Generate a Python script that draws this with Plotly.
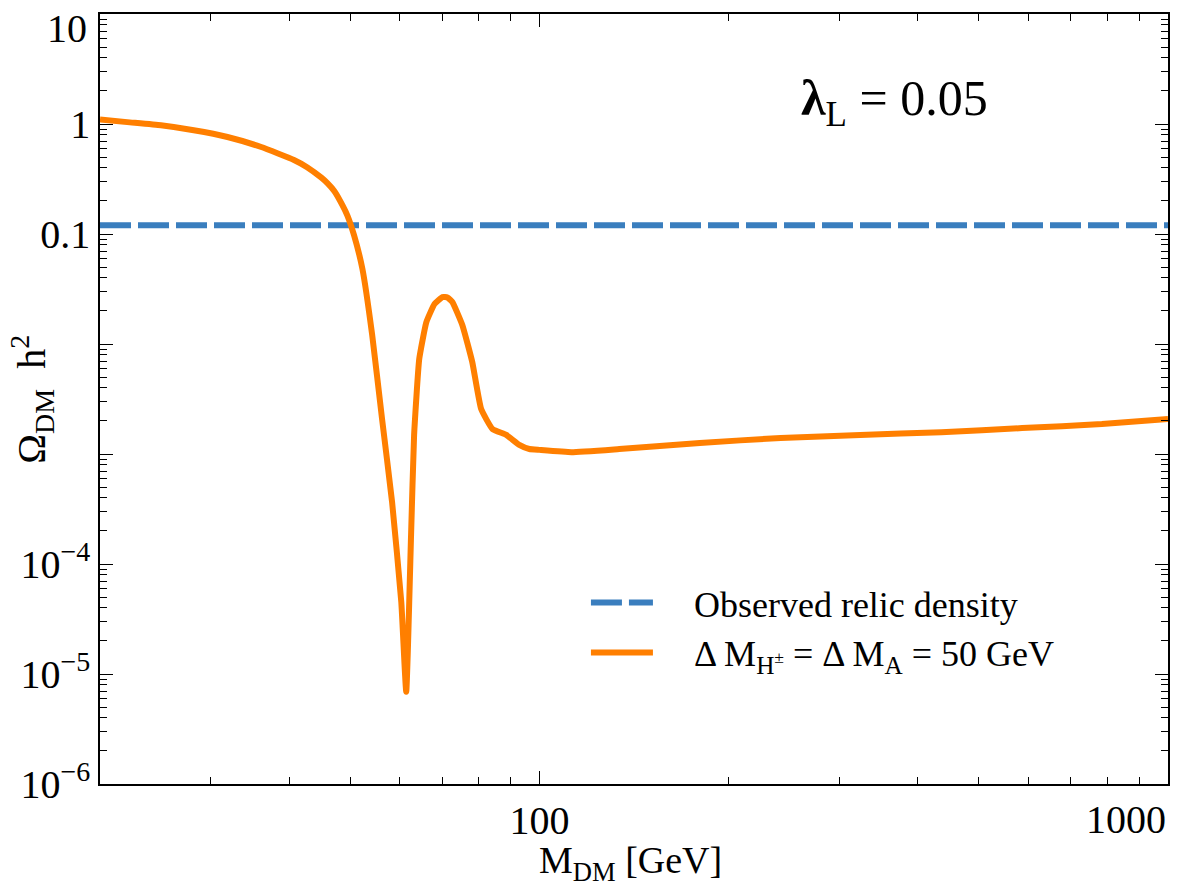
import plotly.graph_objects as go

# ---- data ----
m_dm = [20, 22.1, 25.0, 28.2, 31.9, 36.1, 40.7, 42.7, 45.0, 46.0, 47.2, 48.6,
        49.5, 50.7, 52.3, 54.2, 56.2, 58.3, 60.3, 61.4, 62.5, 63.2, 64.4, 66.1, 68.1,
        70.1, 71.4, 72.7, 75.4, 78.2, 80.8, 84.2, 88.6, 92.9, 96.4, 100, 112.5, 134,
        180, 242, 324, 436, 586, 785, 1000]
omega = [1.10, 1.04, 0.973, 0.877, 0.762, 0.618, 0.471, 0.405, 0.325, 0.290, 0.245,
         0.183, 0.147, 0.098, 0.0481, 0.0121, 0.00208, 3.66e-4, 4.52e-5, 6.9e-6,
         1.84e-4, 1.49e-3, 7.31e-3, 0.0158, 0.0231, 0.0267, 0.0265, 0.0241, 0.0149,
         6.86e-3, 2.56e-3, 1.69e-3, 1.49e-3, 1.21e-3, 1.11e-3, 1.09e-3, 1.04e-3,
         1.11e-3, 1.26e-3, 1.40e-3, 1.49e-3, 1.58e-3, 1.72e-3, 1.87e-3, 2.08e-3]
obs_x = [20, 1000]
obs_y = [0.12, 0.12]

x_tickvals = [100, 1000]
x_ticktext = ["100", ""]
y_tickvals = [10, 1, 0.1, 0.01, 0.001, 1e-4, 1e-5, 1e-6]
y_ticktext = ["", "1", "0.1", "", "", "10<sup>−4</sup>", "10<sup>−5</sup>", "10<sup>−6</sup>"]

FONT = "Liberation Serif"
BLUE = "#3a7ebe"
ORANGE = "#ff7f00"
NB = "\u00a0"

fig = go.Figure()
fig.add_trace(go.Scatter(x=obs_x, y=obs_y, mode="lines",
                         name=NB * 4 + "Observed relic density",
                         line=dict(color=BLUE, width=6, dash="31px,7px")))
fig.add_trace(go.Scatter(x=m_dm, y=omega, mode="lines",
                         name=NB * 4 + "Δ M<sub>H<sup>±</sup></sub> = Δ M<sub>A</sub> = 50 GeV",
                         line=dict(color=ORANGE, width=6, shape="spline", smoothing=0.4)))

axis_common = dict(showline=True, linecolor="black", linewidth=1.5, mirror="ticks",
                   ticks="inside", ticklen=13, tickwidth=1.2, tickcolor="black",
                   showgrid=False, zeroline=False,
                   tickfont=dict(family=FONT, size=40, color="black"),
                   minor=dict(ticks="inside", ticklen=7, tickwidth=1.2, tickcolor="black",
                              dtick="D1", showgrid=False))

fig.update_xaxes(type="log", range=[1.30103, 3.0], tickvals=x_tickvals,
                 ticktext=x_ticktext, **axis_common)
fig.update_yaxes(type="log", range=[-6, 1.0], tickvals=y_tickvals,
                 ticktext=y_ticktext, **axis_common)

annotations = [
    dict(text="10", x=0, y=0.9806, xref="paper", yref="paper", xanchor="right",
         yanchor="middle", xshift=-11, showarrow=False,
         font=dict(family=FONT, size=40, color="black")),
    dict(text="1000", x=1.0, y=-0.0466, xref="paper", yref="paper", xanchor="right",
         yanchor="middle", showarrow=False,
         font=dict(family=FONT, size=40, color="black")),
    dict(text="M<sub>DM</sub> [GeV]", x=0.4963, y=-0.103, xref="paper", yref="paper",
         xanchor="center", yanchor="middle", showarrow=False,
         font=dict(family=FONT, size=38, color="black")),
    dict(text="Ω<sub>DM</sub>" + NB * 2 + "h<sup>2</sup>", x=-0.064, y=0.500,
         xref="paper", yref="paper", xanchor="center", yanchor="middle", textangle=-90,
         showarrow=False, font=dict(family=FONT, size=40, color="black")),
    dict(text="<b>λ</b><sub>L</sub> = 0.05", x=0.744, y=0.886, xref="paper",
         yref="paper", xanchor="center", yanchor="middle", showarrow=False,
         font=dict(family=FONT, size=50, color="black")),
]

fig.update_layout(
    width=1182, height=886,
    margin=dict(l=100, r=14, t=12, b=102),
    paper_bgcolor="white", plot_bgcolor="white",
    showlegend=True,
    legend=dict(x=0.455, y=0.203, xanchor="left", yanchor="middle",
                bgcolor="rgba(0,0,0,0)", itemwidth=62,
                font=dict(family=FONT, size=36, color="black")),
    annotations=annotations,
)

fig.write_html("out.html")
